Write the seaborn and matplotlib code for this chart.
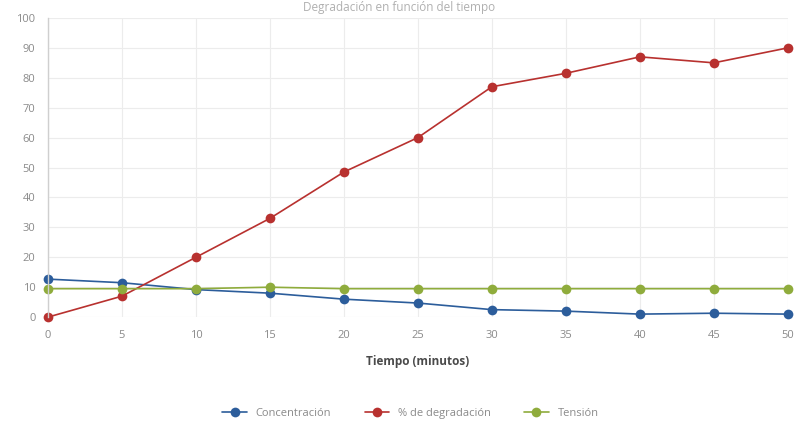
import matplotlib
matplotlib.use("Agg")
import matplotlib.pyplot as plt
import seaborn as sns
import pandas as pd

tiempo = [0, 5, 10, 15, 20, 25, 30, 35, 40, 45, 50]
concentracion = [12.7, 11.5, 9.2, 8.0, 6.0, 4.7, 2.5, 2.0, 1.0, 1.3, 1.0]
degradacion = [0.0, 7.0, 20.0, 33.0, 48.5, 60.0, 77.0, 81.5, 87.0, 85.0, 90.0]
tension = [9.5, 9.5, 9.5, 10.0, 9.5, 9.5, 9.5, 9.5, 9.5, 9.5, 9.5]

series_names = ["Concentración", "% de degradación", "Tensión"]
colors = ["#2c5d9b", "#b8312f", "#8fac3c"]
y_ticks = list(range(0, 101, 10))

df = pd.DataFrame({
    "Tiempo": tiempo * 3,
    "Valor": concentracion + degradacion + tension,
    "Serie": [series_names[0]] * len(tiempo)
             + [series_names[1]] * len(tiempo)
             + [series_names[2]] * len(tiempo),
})

sns.set_theme(style="white")
plt.rcParams["font.family"] = ["Open Sans", "DejaVu Sans"]

fig = plt.figure(figsize=(7.99, 4.38), dpi=100)
ax = fig.add_axes([0.060, 0.276, 0.926, 0.683])

sns.lineplot(data=df, x="Tiempo", y="Valor", hue="Serie",
             palette=dict(zip(series_names, colors)),
             marker="o", markersize=7, markeredgewidth=0,
             linewidth=1.2, ax=ax, legend=True)
for ln in ax.lines:
    ln.set_clip_on(False)

ax.set_xlim(0, 50)
ax.set_ylim(0, 100)
ax.set_xticks(tiempo)
ax.set_yticks(y_ticks)
ax.tick_params(axis="both", labelsize=8, colors="#8a8a8a", length=0, pad=9)
ax.grid(True, color="#ececec", linewidth=0.8)
for side in ["top", "right", "bottom"]:
    ax.spines[side].set_visible(False)
ax.spines["left"].set_color("#cfcfcf")
ax.spines["left"].set_linewidth(1.0)

ax.set_xlabel("Tiempo (minutos)", fontsize=8.5, fontweight="bold",
              color="#4a4a4a", labelpad=10)
ax.set_ylabel("")

ax.legend(loc="upper center", bbox_to_anchor=(0.49, -0.27), ncol=3,
          frameon=False, fontsize=8, labelcolor="#8a8a8a",
          handlelength=2.2, columnspacing=3.0)

fig.text(0.5, 0.997, "Degradación en función del tiempo", ha="center",
         va="top", fontsize=8.5, color="#b0b0b0")

fig.savefig("out.png", dpi=100, facecolor="white")
